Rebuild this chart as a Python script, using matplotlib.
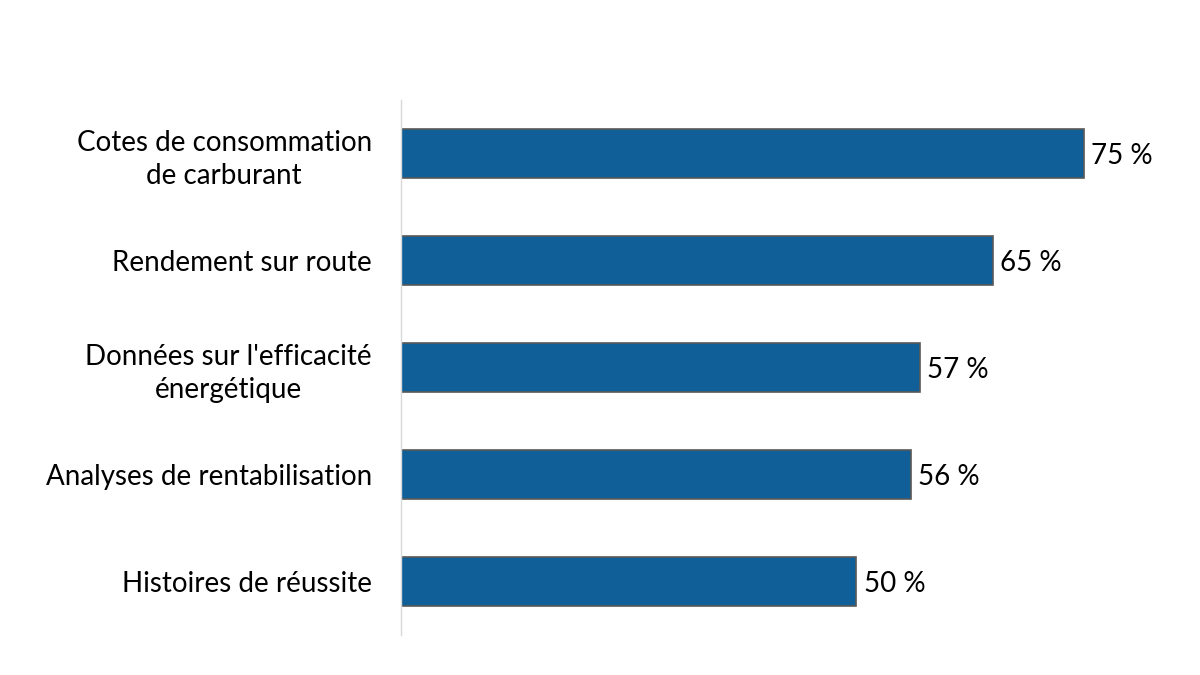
import matplotlib
matplotlib.use('Agg')
import matplotlib.pyplot as plt

categories = ["Cotes de consommation\nde carburant",
              "Rendement sur route",
              "Données sur l'efficacité\nénergétique",
              "Analyses de rentabilisation",
              "Histoires de réussite"]
values = [75, 65, 57, 56, 50]

plt.rcParams['font.family'] = ['Lato', 'DejaVu Sans']

fig = plt.figure(figsize=(12, 6.75), dpi=100)
ax = fig.add_axes([401 / 1200, 40 / 675, 739 / 1200, 535 / 675])

ypos = list(range(len(categories)))
ax.barh(ypos, values, height=0.45, color='#105F99', edgecolor='#595959', linewidth=1.2)
for y, v in zip(ypos, values):
    ax.text(v + 0.8, y, f'{v} %', va='center_baseline', ha='left', fontsize=20, color='black')

ax.set_yticks(ypos)
ax.set_yticklabels(categories, fontsize=20, linespacing=1.35, multialignment='center')
ax.tick_params(axis='y', length=0, pad=21)
ax.set_ylim(len(categories) - 0.5, -0.5)
ax.set_xlim(0, 739 / 9.107)
ax.set_xticks([])
for s in ['top', 'right', 'bottom']:
    ax.spines[s].set_visible(False)
ax.spines['left'].set_color('#d9d9d9')
ax.spines['left'].set_linewidth(1)

fig.savefig('out.png', dpi=100, facecolor='white')
